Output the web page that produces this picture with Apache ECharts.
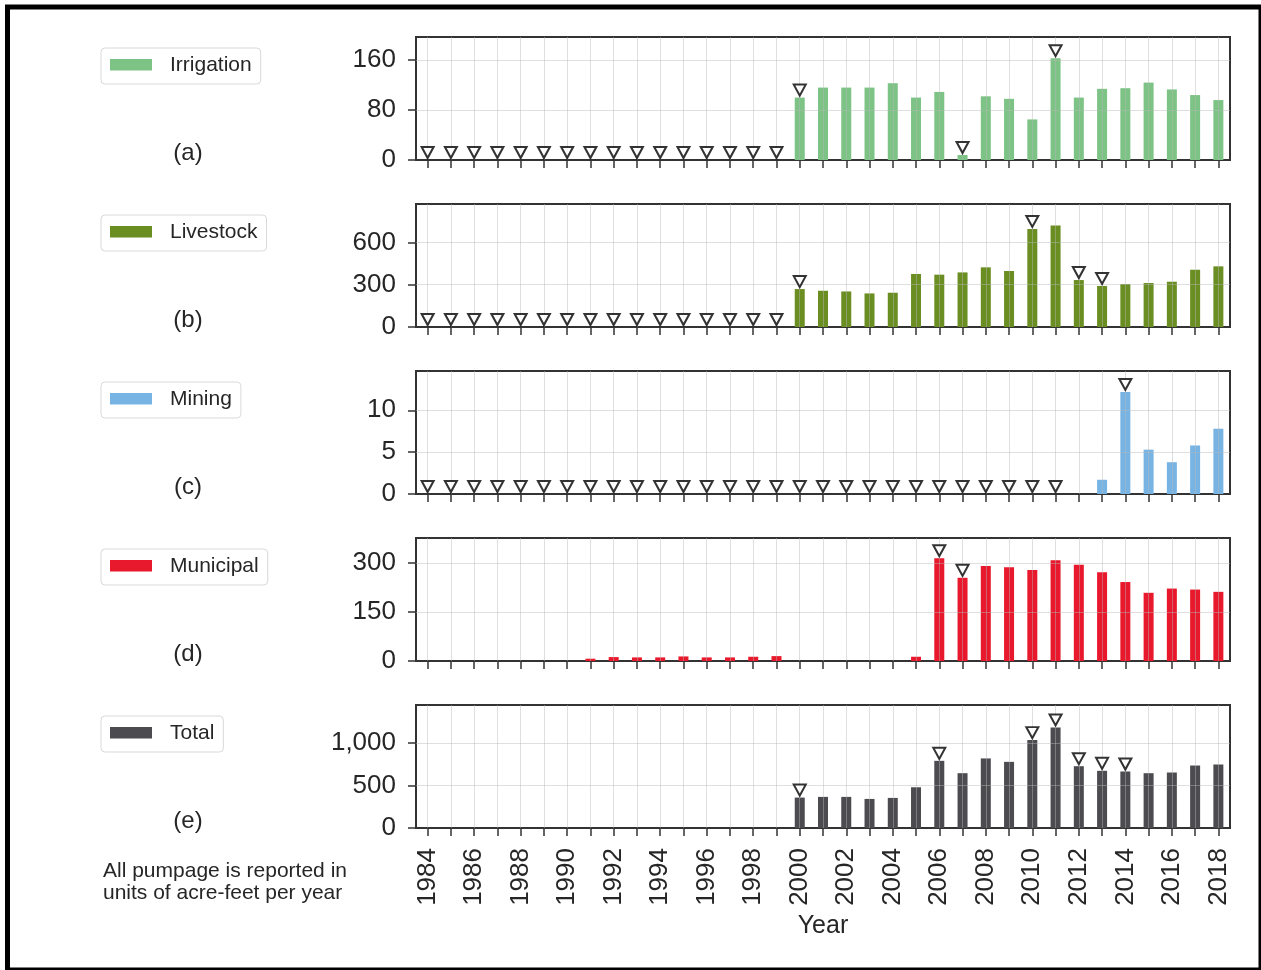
<!DOCTYPE html>
<html>
<head>
<meta charset="utf-8">
<script src="https://cdn.jsdelivr.net/npm/echarts@6/dist/echarts.min.js"></script>
<style>html,body{margin:0;padding:0;background:#fff}#c{width:1261px;height:970px}</style>
</head>
<body>
<div id="c"></div>
<script>
// ---------------- data ----------------
const years = ['1984','1985','1986','1987','1988','1989','1990','1991','1992','1993','1994','1995',
  '1996','1997','1998','1999','2000','2001','2002','2003','2004','2005','2006','2007','2008','2009',
  '2010','2011','2012','2013','2014','2015','2016','2017','2018'];

const seriesNames = ['Irrigation','Livestock','Mining','Municipal','Total'];
const panelTags = ['(a)','(b)','(c)','(d)','(e)'];

const irrigation = [0,0,0,0,0,0,0,0,0,0,0,0,0,0,0,0,
  100,116,116,116,123,100,109,8,102,98,65,163,100,114,115,124,113,104,96];
const livestock = [0,0,0,0,0,0,0,0,0,0,0,0,0,0,0,0,
  269,257,252,238,243,376,371,387,423,397,695,720,333,291,305,312,321,406,430];
const mining = [0,0,0,0,0,0,0,0,0,0,0,0,0,0,0,0,
  0,0,0,0,0,0,0,0,0,0,0,0,null,1.7,12.2,5.3,3.8,5.8,7.8];
const municipal = [0,0,0,0,0,0,0,7,12,11,11,14,11,11,13,15,
  0,0,0,0,0,13,315,255,291,287,279,309,295,272,242,209,222,219,212];
const total = [0,0,0,0,0,0,0,0,0,0,0,0,0,0,0,0,
  357,365,365,341,353,478,788,643,816,776,1031,1180,725,671,663,643,651,733,745];

// years marked with a triangle
const irrigationFlags = ['1984','1985','1986','1987','1988','1989','1990','1991','1992','1993','1994',
  '1995','1996','1997','1998','1999','2000','2007','2011'];
const livestockFlags = ['1984','1985','1986','1987','1988','1989','1990','1991','1992','1993','1994',
  '1995','1996','1997','1998','1999','2000','2010','2012','2013'];
const miningFlags = ['1984','1985','1986','1987','1988','1989','1990','1991','1992','1993','1994',
  '1995','1996','1997','1998','1999','2000','2001','2002','2003','2004','2005','2006','2007','2008',
  '2009','2010','2011','2014'];
const municipalFlags = ['2006','2007'];
const totalFlags = ['2000','2006','2010','2011','2012','2013','2014'];

// y tick values
const irrigationTicks = [0,80,160];
const livestockTicks = [0,300,600];
const miningTicks = [0,5,10];
const municipalTicks = [0,150,300];
const totalTicks = [0,500,1000];

const yMax = [197, 872, 14.7, 377, 1443];

const footnote = 'All pumpage is reported in\nunits of acre-feet per year';
const xAxisTitle = 'Year';

// ---------------- layout ----------------
const values = [irrigation, livestock, mining, municipal, total];
const flags = [irrigationFlags, livestockFlags, miningFlags, municipalFlags, totalFlags];
const ticks = [irrigationTicks, livestockTicks, miningTicks, municipalTicks, totalTicks];
const colors = ['#7cc385', '#6b8e23', '#78b4e3', '#e8192c', '#4b4b50'];
const tops = [37, 204, 371, 538, 705];
const FONT = '"Liberation Sans", Arial, sans-serif';
const TXT = '#262626';
const AX = '#333333';

const ctx = document.createElement('canvas').getContext('2d');
ctx.font = '21px "Liberation Sans"';

const grid = [], xAxis = [], yAxis = [], series = [], graphic = [];

graphic.push({type:'rect', shape:{x:7.5, y:7, width:1253.5, height:963},
  style:{fill:'none', stroke:'#000', lineWidth:5}, z:100});

for (let i = 0; i < 5; i++) {
  grid.push({left:416, top:tops[i], width:814, height:123, show:true,
    borderColor:AX, borderWidth:2, backgroundColor:'transparent'});
  xAxis.push({type:'category', gridIndex:i, data:years, boundaryGap:true,
    axisLine:{show:true, onZero:false, lineStyle:{color:AX, width:2}},
    axisTick:{show:true, alignWithLabel:true, interval:0, length:8, lineStyle:{color:AX, width:1.5}},
    axisLabel:{show:i===4, interval:1, rotate:90, fontSize:26, color:TXT, margin:20, fontFamily:FONT},
    splitLine:{show:false},
    name: i===4 ? xAxisTitle : '', nameLocation:'middle', nameGap:86,
    nameTextStyle:{fontSize:25, color:TXT, fontFamily:FONT}});
  yAxis.push({type:'value', gridIndex:i, min:0, max:yMax[i], interval:ticks[i][1],
    axisLine:{show:true, lineStyle:{color:AX, width:2}},
    axisTick:{show:true, length:8, customValues:ticks[i], lineStyle:{color:AX, width:1.5}},
    axisLabel:{customValues:ticks[i], fontSize:26, color:TXT, margin:20, fontFamily:FONT,
      formatter:v => Number(v).toLocaleString('en-US')},
    splitLine:{show:false}});
  series.push({type:'bar', name:seriesNames[i], xAxisIndex:i, yAxisIndex:i, data:values[i],
    barWidth:10, itemStyle:{color:colors[i]}, animation:false,
    markLine:{silent:true, symbol:'none', animation:false, label:{show:false},
      lineStyle:{color:'rgba(185,185,185,0.45)', width:1, type:'solid'},
      data:[...years.map(y => ({xAxis:y})), ...ticks[i].filter(t => t > 0).map(t => ({yAxis:t}))]}});
  series.push({type:'scatter', xAxisIndex:i, yAxisIndex:i, silent:true, animation:false, z:6,
    data:flags[i].map(y => [y, values[i][years.indexOf(y)]]),
    symbol:'path://M0,0L12,0L6,11Z', symbolSize:[12,11], symbolOffset:[0,-7.5],
    itemStyle:{color:'#ffffff', borderColor:'#000', borderWidth:2}});

  // legend box
  const tw = ctx.measureText(seriesNames[i]).width;
  graphic.push({type:'rect', shape:{x:101, y:tops[i]+11, width:69+tw+9, height:36, r:4},
    style:{fill:'#fff', stroke:'#d9d9d9', lineWidth:1}});
  graphic.push({type:'rect', shape:{x:110, y:tops[i]+22, width:42, height:11.5},
    style:{fill:colors[i]}});
  graphic.push({type:'text', x:170, y:tops[i]+28,
    style:{text:seriesNames[i], fill:TXT, font:'21px ' + FONT, verticalAlign:'middle', align:'left'}});
  graphic.push({type:'text', x:188, y:tops[i]+116,
    style:{text:panelTags[i], fill:TXT, font:'24px ' + FONT, verticalAlign:'middle', align:'center'}});
}

graphic.push({type:'text', x:103, y:860,
  style:{text:footnote, fill:TXT, font:'21px ' + FONT, lineHeight:22, verticalAlign:'top', align:'left'}});

const chart = echarts.init(document.getElementById('c'), null, {renderer:'canvas'});
chart.setOption({
  animation:false,
  backgroundColor:'#ffffff',
  textStyle:{fontFamily:FONT},
  grid, xAxis, yAxis, series, graphic
});
</script>
</body>
</html>
